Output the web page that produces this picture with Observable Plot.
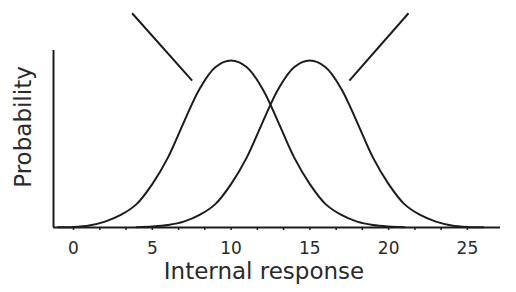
<!DOCTYPE html>
<html><head><meta charset="utf-8">
<script src="https://cdn.jsdelivr.net/npm/d3@7"></script>
<script src="https://cdn.jsdelivr.net/npm/@observablehq/plot@0.6"></script>
<style>body{margin:0;background:#fff}</style>
</head><body><div id="chart"></div>
<script>
// Noise-alone distribution (left curve)
const leftX = [-1,0,1,2,3,4,5,6,7,8,9,10,11,12,13,14,15,16,17,18,19,20,21];
const leftY = [0.001,0.003,0.012,0.035,0.075,0.14,0.26,0.42,0.63,0.83,0.96,1.0,0.96,0.83,0.63,0.42,0.26,0.14,0.075,0.035,0.015,0.006,0.002];
// Signal-plus-noise distribution (right curve)
const rightX = [4,5,6,7,8,9,10,11,12,13,14,15,16,17,18,19,20,21,22,23,24,25,26];
const rightY = [0.002,0.006,0.015,0.035,0.075,0.14,0.26,0.42,0.63,0.83,0.96,1.0,0.96,0.83,0.63,0.42,0.26,0.14,0.075,0.035,0.012,0.003,0.001];
// pointer lines
const pointerX1 = [3.72, 21.26];
const pointerY1 = [1.283, 1.283];
const pointerX2 = [7.53, 17.51];
const pointerY2 = [0.88, 0.88];
// axis
const xDomain = [-1.27, 27.1];
const yDomain = [0, 1.06];
const minorTicks = [0,1.67,3.33,5,6.67,8.33,10,11.67,13.33,15,16.67,18.33,20,21.67,23.33,25];
const majorTicks = [0,5,10,15,20,25];
const xLabel = "Internal response";
const yLabel = "Probability";

const left = leftX.map((x,i)=>({x, y:leftY[i]}));
const right = rightX.map((x,i)=>({x, y:rightY[i]}));
const pointers = pointerX1.map((x1,i)=>({x1, y1:pointerY1[i], x2:pointerX2[i], y2:pointerY2[i]}));

const ink = "#1c1c1c";
const chart = Plot.plot({
  width: 516, height: 292,
  marginLeft: 53, marginRight: 16, marginTop: 50, marginBottom: 65,
  x: {domain: xDomain},
  y: {domain: yDomain, axis: null},
  style: {fontFamily: "DejaVu Sans", background: "white", color: ink},
  marks: [
    Plot.axisX(minorTicks, {tickSize: 3, tickFormat: () => "", label: null, stroke: ink, strokeWidth: 1.5}),
    Plot.axisX(majorTicks, {tickSize: 0, tickPadding: 14, fontSize: 17, label: null, fill: "#2a2a2a"}),
    Plot.ruleY([yDomain[0]], {stroke: ink, strokeWidth: 2}),
    Plot.ruleX([xDomain[0]], {stroke: ink, strokeWidth: 2}),
    Plot.line(left, {x: "x", y: "y", curve: "catmull-rom", stroke: ink, strokeWidth: 2}),
    Plot.line(right, {x: "x", y: "y", curve: "catmull-rom", stroke: ink, strokeWidth: 2}),
    Plot.link(pointers, {x1: "x1", y1: "y1", x2: "x2", y2: "y2", stroke: ink, strokeWidth: 2}),
    Plot.text([xLabel], {text: d => d, frameAnchor: "bottom", dx: -13, dy: 51, fontSize: 23, fill: "#2a2a2a"}),
    Plot.text([yLabel], {text: d => d, frameAnchor: "left", textAnchor: "middle", rotate: -90, dx: -30, dy: -12, fontSize: 23, fill: "#2a2a2a"})
  ]
});
document.getElementById("chart").appendChild(chart);
</script>
</body></html>
